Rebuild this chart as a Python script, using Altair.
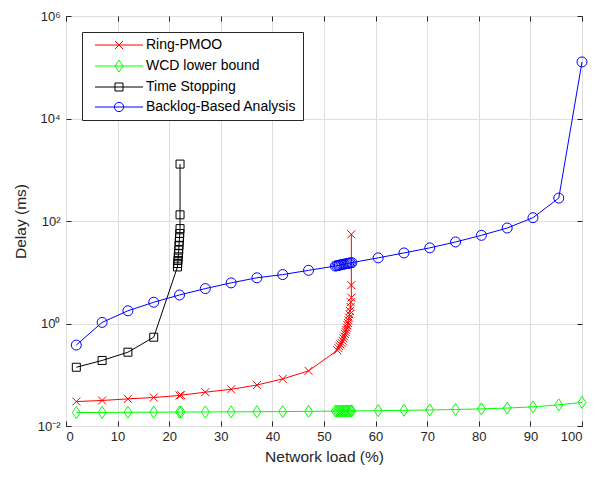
import altair as alt
import pandas as pd

SERIES = ["Ring-PMOO", "WCD lower bound", "Time Stopping", "Backlog-Based Analysis"]
COLORS = ["#ff0000", "#00ff00", "#000000", "#0000ff"]

ring_x = [2, 7, 12, 17, 22, 22.3, 27, 32, 37, 42, 47,
          52.6, 52.8, 53.0, 53.2, 53.4, 53.6, 53.8, 53.9, 54.1, 54.2, 54.3, 54.45,
          54.55, 54.65, 54.75, 54.85, 54.95, 55.05, 55.15, 55.2, 55.3, 55.3, 55.3]
ring_y = [0.030, 0.0315, 0.0338, 0.036, 0.0394, 0.040, 0.0457, 0.052, 0.063, 0.083, 0.119,
          0.30, 0.33, 0.36, 0.39, 0.42, 0.46, 0.51, 0.56, 0.62, 0.68, 0.75, 0.83,
          0.92, 1.02, 1.15, 1.3, 1.5, 1.75, 2.1, 2.6, 3.2, 5.6, 55]

wcd_x = [2, 7, 12, 17, 22, 22.3, 27, 32, 37, 42, 47,
         52.2, 52.5, 52.8, 53.1, 53.4, 53.7, 54.0, 54.3, 54.6, 54.9, 55.2, 55.4,
         60.5, 65.5, 70.5, 75.5, 80.5, 85.5, 90.5, 95.5, 100]
wcd_y = [0.0183, 0.0184, 0.0185, 0.0186, 0.0187, 0.0187, 0.0188, 0.0189, 0.019, 0.0191, 0.0193,
         0.0195, 0.0195, 0.0195, 0.0195, 0.0196, 0.0196, 0.0196, 0.0196, 0.0196, 0.0197, 0.0197, 0.0197,
         0.0199, 0.0202, 0.0206, 0.021, 0.0216, 0.0224, 0.0236, 0.0259, 0.0288]

ts_x = [2, 7, 12, 17, 21.6, 21.65, 21.7, 21.75, 21.8, 21.85, 21.9, 21.95, 22.0, 22.05, 22.1, 22.1, 22.1]
ts_y = [0.14, 0.19, 0.275, 0.54, 12.7, 14.8, 17, 20, 23, 27, 33.5, 40, 47, 57, 71, 132, 1290]

bb_x = [2, 7, 12, 17, 22, 27, 32, 37, 42, 47,
        52.2, 52.5, 52.8, 53.0, 53.3, 53.6, 53.9, 54.2, 54.5, 54.8, 55.1, 55.4,
        60.5, 65.5, 70.5, 75.5, 80.5, 85.5, 90.5, 95.5, 100]
bb_y = [0.38, 1.05, 1.77, 2.6, 3.6, 4.8, 6.2, 7.8, 9.0, 10.9,
        13.2, 13.4, 13.6, 13.8, 14.0, 14.2, 14.4, 14.6, 14.8, 15.0, 15.2, 15.4,
        19.1, 23.8, 29.9, 39, 52.5, 73, 116, 280, 127000]

x_ticks = [0, 10, 20, 30, 40, 50, 60, 70, 80, 90, 100]
y_ticks = [0.01, 1, 100, 10000, 1000000]

# marker shapes (unit = 4 px at size 64)
MARKERS = [
    "M-1,-1L1,1M-1,1L1,-1",
    "M0,-1.5L1,0L0,1.5L-1,0Z",
    "M-1,-1H1V1H-1Z",
    "M1.25,0A1.25,1.25,0,1,1,-1.25,0A1.25,1.25,0,1,1,1.25,0Z",
]
LINE = "M0,0L12,0"
LEG_MARKERS = [
    LINE + "M5,-1L7,1M5,1L7,-1",
    LINE + "M6,-1.5L7,0L6,1.5L5,0Z",
    LINE + "M5,-1H7V1H5Z",
    LINE + "M7.15,0A1.15,1.15,0,1,1,4.85,0A1.15,1.15,0,1,1,7.15,0Z",
]

rows = []
for name, xs, ys in [(SERIES[0], ring_x, ring_y), (SERIES[1], wcd_x, wcd_y),
                     (SERIES[2], ts_x, ts_y), (SERIES[3], bb_x, bb_y)]:
    for i, (xv, yv) in enumerate(zip(xs, ys)):
        rows.append({"series": name, "load": xv, "delay": yv, "idx": i})
df = pd.DataFrame(rows)

FONT = "Liberation Sans"
TXT = "#262626"

xscale = alt.Scale(domain=[0, 100], nice=False)
yscale = alt.Scale(type="log", domain=[0.01, 1e6], nice=False)

label_expr = ("datum.value > 9e5 ? '10⁶' : datum.value > 9e3 ? '10⁴' : "
              "datum.value > 90 ? '10²' : datum.value > 0.9 ? '10⁰' : '10⁻²'")

x_axis = alt.Axis(values=x_ticks, orient="bottom", offset=-5, domain=False, tickSize=5,
                  labelPadding=4, grid=True, title="Network load (%)", titlePadding=6,
                  labelFontSize=13, titleFontSize=15.5)
y_axis = alt.Axis(values=y_ticks, orient="left", offset=-5, domain=False, tickSize=5,
                  labelPadding=6, grid=True, title="Delay (ms)", titlePadding=9,
                  labelExpr=label_expr, labelFontSize=13, titleFontSize=15.5)

base = alt.Chart(df)
color_plot = alt.Color("series:N", scale=alt.Scale(domain=SERIES, range=COLORS), legend=None)

lines = base.mark_line(strokeWidth=1).encode(
    x=alt.X("load:Q", scale=xscale, axis=x_axis),
    y=alt.Y("delay:Q", scale=yscale, axis=y_axis),
    color=color_plot,
    order="idx:Q",
)
points = base.mark_point(filled=False, size=64, strokeWidth=1, opacity=1).encode(
    x=alt.X("load:Q"),
    y=alt.Y("delay:Q"),
    color=color_plot,
    shape=alt.Shape("series:N", scale=alt.Scale(domain=SERIES, range=MARKERS), legend=None),
)
inner = alt.layer(lines, points)

top_axis = alt.Axis(values=x_ticks, orient="top", offset=-5, domain=False, tickSize=5,
                    labels=False, grid=False, title=None)
right_axis = alt.Axis(values=y_ticks, orient="right", offset=-5, domain=False, tickSize=5,
                      labels=False, grid=False, title=None)

leg = alt.Legend(title=None, orient="none", legendX=16, legendY=16, padding=6,
                 strokeColor=TXT, fillColor="white", labelFontSize=14, labelFont=FONT,
                 labelColor="#000000", symbolSize=64, symbolStrokeWidth=1,
                 labelOffset=44, rowPadding=6)

legend_layer = base.transform_filter("datum.load < -1000").mark_point(
    filled=False, size=64, strokeWidth=1, opacity=1).encode(
    x=alt.X("load:Q", axis=top_axis),
    y=alt.Y("delay:Q", axis=right_axis),
    color=alt.Color("series:N", scale=alt.Scale(domain=SERIES, range=COLORS), legend=leg),
    shape=alt.Shape("series:N", scale=alt.Scale(domain=SERIES, range=LEG_MARKERS), legend=leg),
)

chart = alt.layer(inner, legend_layer).resolve_scale(
    color="independent", shape="independent"
).resolve_axis(x="independent", y="independent").properties(
    width=516, height=410,
    autosize=alt.AutoSizeParams(type="none"),
    padding={"left": 58, "top": 8, "right": 10, "bottom": 44},
).configure_axis(
    labelFont=FONT, titleFont=FONT, labelColor=TXT, titleColor=TXT, tickColor=TXT,
    gridColor="#dedede", gridWidth=1, titleFontWeight="normal", tickWidth=1,
).configure_view(stroke=TXT, strokeWidth=1)

chart.save("out.html", embed_options={"renderer": "svg", "actions": False})
